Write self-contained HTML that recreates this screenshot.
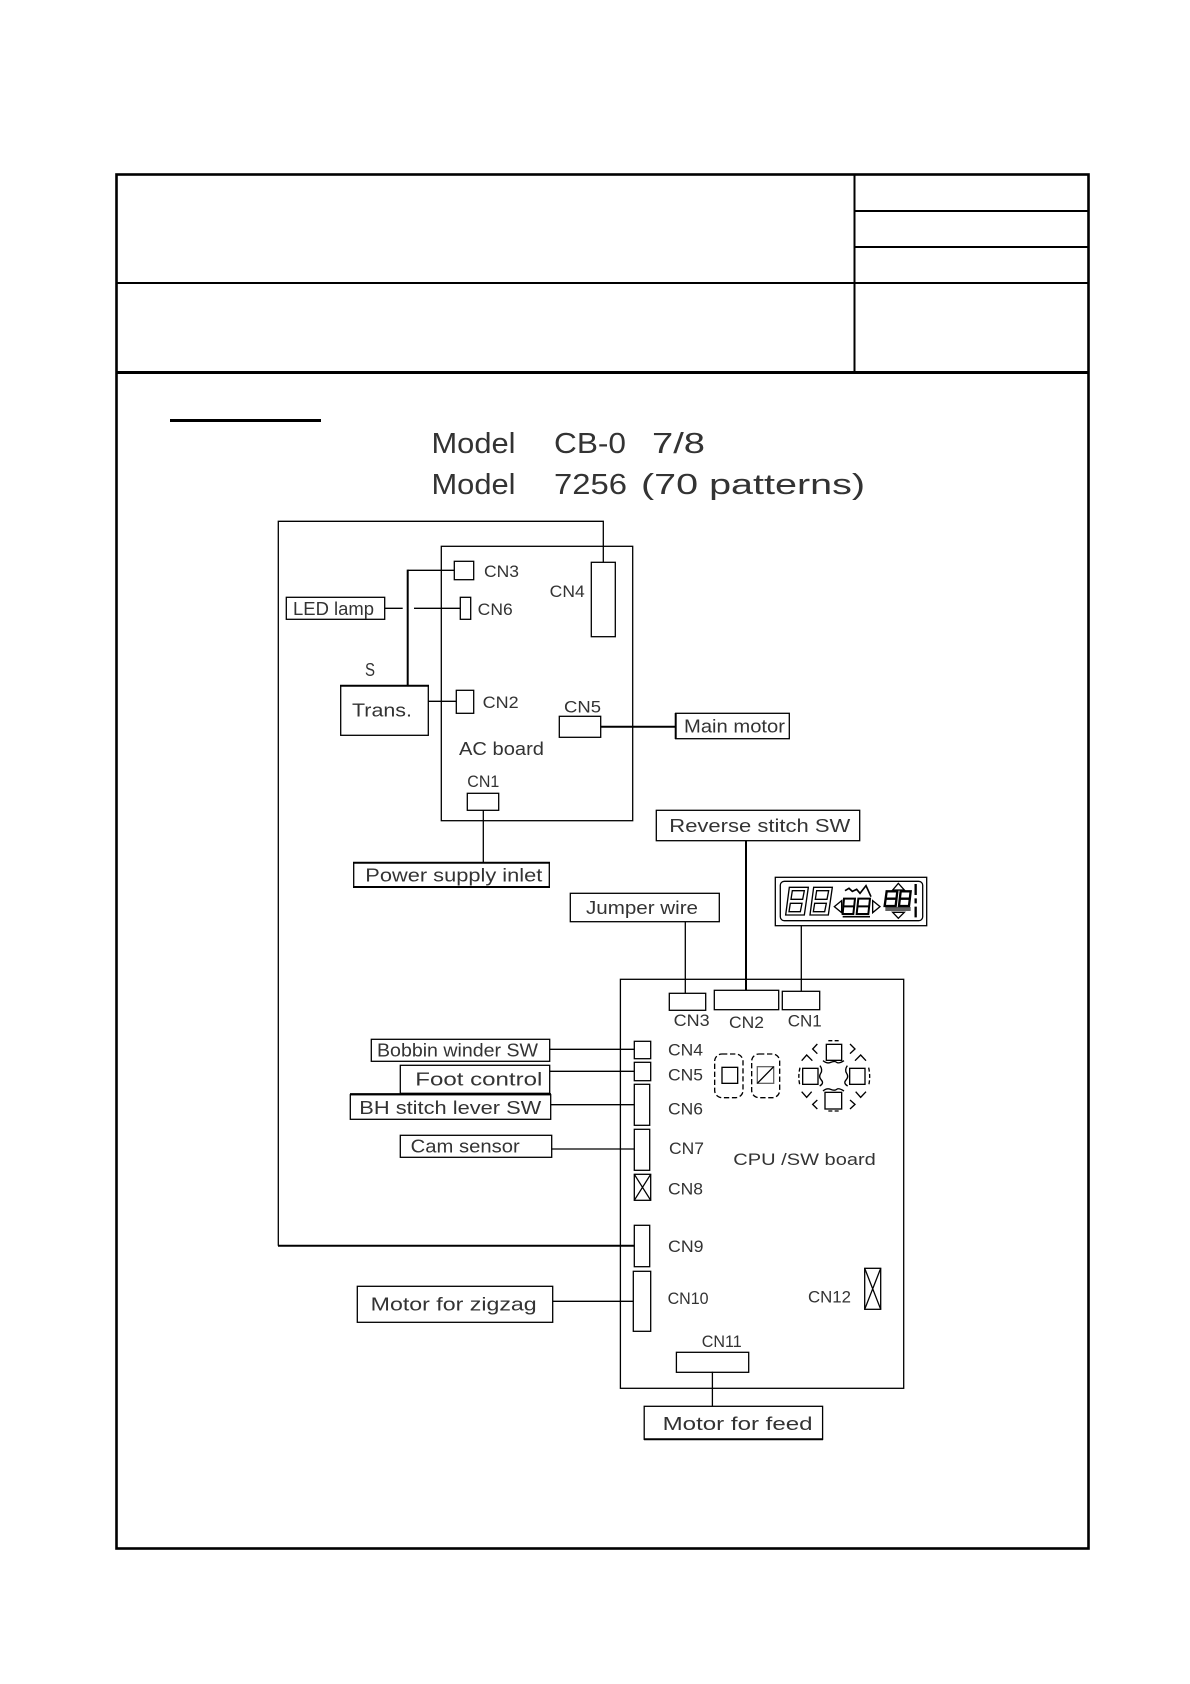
<!DOCTYPE html>
<html><head><meta charset="utf-8"><title>Wiring diagram</title>
<style>
html,body{margin:0;padding:0;background:#fff}
svg{display:block}
text{font-family:"Liberation Sans",sans-serif;fill:#333}
.c{font-size:17px}
.l{font-size:18.5px}
.t{font-size:29px}
</style></head><body>
<svg width="1190" height="1684" viewBox="0 0 1190 1684" xmlns="http://www.w3.org/2000/svg">
<rect width="1190" height="1684" fill="#fff"/>
<!-- title block -->
<g stroke="#000" fill="none">
<rect x="116.5" y="174.5" width="972" height="1374" stroke-width="2.6"/>
<path d="M116 372.5H1089" stroke-width="3"/>
<path d="M116 283H1089M854.5 175V372M855 211H1089M855 247H1089" stroke-width="2"/>
<path d="M170 420.5H321" stroke-width="3"/>
</g>
<g>
<text class="t" x="431.5" y="453" textLength="84" lengthAdjust="spacingAndGlyphs">Model</text>
<text class="t" x="554" y="453" textLength="72" lengthAdjust="spacingAndGlyphs">CB-0</text>
<text class="t" x="652" y="453" textLength="53" lengthAdjust="spacingAndGlyphs">7/8</text>
<text class="t" x="431.5" y="494" textLength="84" lengthAdjust="spacingAndGlyphs">Model</text>
<text class="t" x="554" y="494" textLength="73" lengthAdjust="spacingAndGlyphs">7256</text>
<text class="t" x="641" y="494" textLength="224" lengthAdjust="spacingAndGlyphs">(70 patterns)</text>
</g>
<!-- wires and boxes -->
<g stroke="#000" fill="none" stroke-width="1.3">
<path d="M603.3 562.3V521.3H278.3V1245.7"/>
<rect x="441.3" y="546.3" width="191.4" height="274.4"/>
<rect x="454.3" y="561.3" width="19.4" height="18.4"/>
<rect x="460.3" y="597.3" width="10.4" height="22"/>
<rect x="591.3" y="562.3" width="24" height="74.4"/>
<rect x="456.3" y="690.3" width="17.4" height="23"/>
<rect x="559.3" y="716.3" width="41.4" height="21"/>
<rect x="467.3" y="793.3" width="31.4" height="17"/>
<rect x="286.3" y="597.3" width="98.4" height="22"/>
<rect x="340.7" y="685.7" width="87.6" height="49.6"/>
<path d="M340 685.7H429" stroke-width="2"/>
<path d="M407.7 570.3H454.3"/>
<path d="M407.7 569.6V685.7" stroke-width="2"/>
<path d="M384.7 608.3H402.7M414 608.3H460.3M428.3 701.3H456.3M483.3 810.3V862.3"/>
<path d="M600.7 726.7H675.7" stroke-width="2"/>
<rect x="675.7" y="713.3" width="113.6" height="25.4"/>
<path d="M675.7 713V739" stroke-width="2"/>
<rect x="353.7" y="862.7" width="195.6" height="24.3"/>
<path d="M353 862.7H550M353 887H550" stroke-width="2"/>
<rect x="656.3" y="810.3" width="203.4" height="30.4"/>
<path d="M746 840.7V990" stroke-width="2"/>
<rect x="570.3" y="893.3" width="149" height="28.4"/>
<path d="M685.3 921.7V993.3M801.3 925.7V991.3"/>
<rect x="775.3" y="877.3" width="151.4" height="48.4"/>
<rect x="780.3" y="881.3" width="142.4" height="39.4" rx="4"/>
<rect x="620.4" y="979.3" width="283.3" height="409"/>
<rect x="669.3" y="993.3" width="36.4" height="17"/>
<rect x="714.3" y="990.3" width="64.4" height="19.4"/>
<rect x="782.3" y="991.3" width="37.4" height="18.4"/>
<rect x="371.3" y="1039.3" width="178.4" height="22"/>
<rect x="400.3" y="1065.3" width="149.4" height="28"/>
<rect x="350.3" y="1094.7" width="200.4" height="24.6"/>
<path d="M350 1094.2H551" stroke-width="2.2"/>
<rect x="400.3" y="1135.3" width="151.4" height="22"/>
<rect x="357.3" y="1286.3" width="195.4" height="36"/>
<rect x="644.2" y="1406.3" width="178.4" height="33"/>
<path d="M644 1439.3H823" stroke-width="2"/>
<path d="M549.7 1049.3H634.3M549.7 1071.3H634.3M550.7 1104.7H634.3M551.7 1149H634.3M552.7 1301.3H633.3M712.4 1371.7V1406.3"/>
<path d="M278 1245.7H634.3" stroke-width="2"/>
<rect x="634.3" y="1041.3" width="16.4" height="17.4"/>
<rect x="634.3" y="1062.3" width="16.4" height="18.4"/>
<rect x="634.3" y="1084.3" width="15.4" height="41"/>
<rect x="634.3" y="1129.3" width="15.4" height="41"/>
<rect x="634.3" y="1174.3" width="16.4" height="26"/>
<path d="M634.3 1174.3L650.7 1200.3M650.7 1174.3L634.3 1200.3"/>
<rect x="634.3" y="1225.3" width="15.4" height="41.4"/>
<rect x="633.3" y="1271.3" width="17.4" height="60"/>
<rect x="864.7" y="1268.3" width="16" height="41"/>
<path d="M864.7 1268.3L880.7 1309.3M880.7 1268.3L864.7 1309.3"/>
<rect x="676.4" y="1352.3" width="72.3" height="20"/>
</g>
<!-- switch panel -->
<g transform="translate(620 1020) scale(.33333)" stroke="#000" fill="none" stroke-width="4">
<rect x="284" y="102" width="85" height="131" rx="22" stroke-dasharray="16 8"/>
<rect x="395" y="102" width="84" height="131" rx="22" stroke-dasharray="16 8"/>
<rect x="306" y="142" width="47" height="48"/>
<rect x="412" y="140" width="49" height="50" stroke="#666"/>
<path d="M412 190L461 140"/>
<rect x="619" y="73" width="46" height="48"/>
<rect x="548" y="145" width="46" height="48"/>
<rect x="689" y="145" width="46" height="48"/>
<rect x="615" y="217" width="50" height="50"/>
<path d="M592 72L578 87L592 101M690 72L705 87L690 101M545 122L560 105L577 122M705 122L722 105L738 122M545 215L560 232L575 215M707 215L722 232L738 215M592 240L578 253L592 267M690 240L705 253L690 267"/>
<path d="M625 62H660M625 273H660M540 143Q533 170 540 197M746 143Q752 170 746 197" stroke-dasharray="12 7"/>
<path d="M609 122Q620 132 632 127T650 127T672 122M609 213Q620 203 632 208T650 208T672 213M600 137Q609 150 602 160T604 180T599 198M682 137Q673 150 680 160T678 180T683 198"/>
</g>
<!-- display -->
<g transform="translate(520 680) scale(.33333)" stroke="#000" fill="none" stroke-width="4">
<path d="M808 622H865L853 705H797Z"/>
<path d="M817 632H853L848 658H813ZM811 670H846L841 695H807Z"/>
<path d="M881 622H937L925 705H870Z"/>
<path d="M890 632H926L921 658H886ZM884 670H919L914 695H880Z"/>
<path d="M975 632L987 625L997 634L1010 628L1020 640L1038 617L1053 650" stroke-width="5"/>
<path d="M943 680L965 662V698ZM1058 662L1080 680L1058 698Z"/>
<path d="M972 656H1005L1000 702H968ZM1015 656H1050L1045 702H1010ZM970 679H1003M1013 679H1048" stroke-width="6"/>
<path d="M968 710H1050" stroke-width="5"/>
<path d="M1100 634H1132L1127 678H1094ZM1142 634H1172L1167 678H1137ZM1097 656H1130M1140 656H1170" stroke-width="7"/>
<path d="M1096 684H1172M1096 690H1172" stroke-width="4"/>
<path d="M1118 630L1135 610L1153 630ZM1118 697L1135 715L1153 697Z"/>
<path d="M1187 612V645M1187 655V670M1187 680V712" stroke-width="7"/>
</g>
<!-- labels -->
<g>
<text class="c" x="484" y="577" textLength="35" lengthAdjust="spacingAndGlyphs">CN3</text>
<text class="c" x="477.7" y="615" textLength="35" lengthAdjust="spacingAndGlyphs">CN6</text>
<text class="c" x="549.7" y="597" textLength="35" lengthAdjust="spacingAndGlyphs">CN4</text>
<text class="l" x="365" y="676" textLength="10" lengthAdjust="spacingAndGlyphs">S</text>
<text class="l" x="352" y="716.5" textLength="60" lengthAdjust="spacingAndGlyphs">Trans.</text>
<text class="c" x="482.7" y="708" textLength="36" lengthAdjust="spacingAndGlyphs">CN2</text>
<text class="c" x="564" y="712.5" textLength="37" lengthAdjust="spacingAndGlyphs">CN5</text>
<text class="l" x="459" y="755" textLength="85" lengthAdjust="spacingAndGlyphs">AC board</text>
<text class="c" x="467.3" y="787" textLength="32" lengthAdjust="spacingAndGlyphs">CN1</text>
<text class="l" x="293" y="615" textLength="81" lengthAdjust="spacingAndGlyphs">LED lamp</text>
<text class="l" x="684" y="732.5" textLength="101" lengthAdjust="spacingAndGlyphs">Main motor</text>
<text class="l" x="365.3" y="881.5" textLength="177" lengthAdjust="spacingAndGlyphs">Power supply inlet</text>
<text class="l" x="669.3" y="832" textLength="181" lengthAdjust="spacingAndGlyphs">Reverse stitch SW</text>
<text class="l" x="586" y="914" textLength="112" lengthAdjust="spacingAndGlyphs">Jumper wire</text>
<text class="c" x="673.7" y="1026" textLength="36" lengthAdjust="spacingAndGlyphs">CN3</text>
<text class="c" x="729" y="1028" textLength="35" lengthAdjust="spacingAndGlyphs">CN2</text>
<text class="c" x="787.7" y="1026.5" textLength="34" lengthAdjust="spacingAndGlyphs">CN1</text>
<text class="l" x="377" y="1056.5" textLength="161" lengthAdjust="spacingAndGlyphs">Bobbin winder SW</text>
<text class="l" x="415.3" y="1085.5" textLength="127" lengthAdjust="spacingAndGlyphs">Foot control</text>
<text class="l" x="359.3" y="1114" textLength="182" lengthAdjust="spacingAndGlyphs">BH stitch lever SW</text>
<text class="l" x="410.7" y="1152.5" textLength="109" lengthAdjust="spacingAndGlyphs">Cam sensor</text>
<text class="l" x="370.7" y="1310.5" textLength="166" lengthAdjust="spacingAndGlyphs">Motor for zigzag</text>
<text class="l" x="662.6" y="1430" textLength="150" lengthAdjust="spacingAndGlyphs">Motor for feed</text>
<text class="c" x="668" y="1055.5" textLength="35" lengthAdjust="spacingAndGlyphs">CN4</text>
<text class="c" x="668" y="1080.5" textLength="35" lengthAdjust="spacingAndGlyphs">CN5</text>
<text class="c" x="668" y="1114.5" textLength="35" lengthAdjust="spacingAndGlyphs">CN6</text>
<text class="c" x="669" y="1154" textLength="35" lengthAdjust="spacingAndGlyphs">CN7</text>
<text class="c" x="668" y="1194.5" textLength="35" lengthAdjust="spacingAndGlyphs">CN8</text>
<text class="c" x="668" y="1252" textLength="35.5" lengthAdjust="spacingAndGlyphs">CN9</text>
<text class="c" x="667.6" y="1304" textLength="41" lengthAdjust="spacingAndGlyphs">CN10</text>
<text class="c" x="808" y="1302.5" textLength="43" lengthAdjust="spacingAndGlyphs">CN12</text>
<text class="c" x="701.7" y="1347" textLength="40" lengthAdjust="spacingAndGlyphs">CN11</text>
<text class="c" x="733.3" y="1165" textLength="142.5" lengthAdjust="spacingAndGlyphs">CPU /SW board</text>
</g>
</svg>
</body></html>
